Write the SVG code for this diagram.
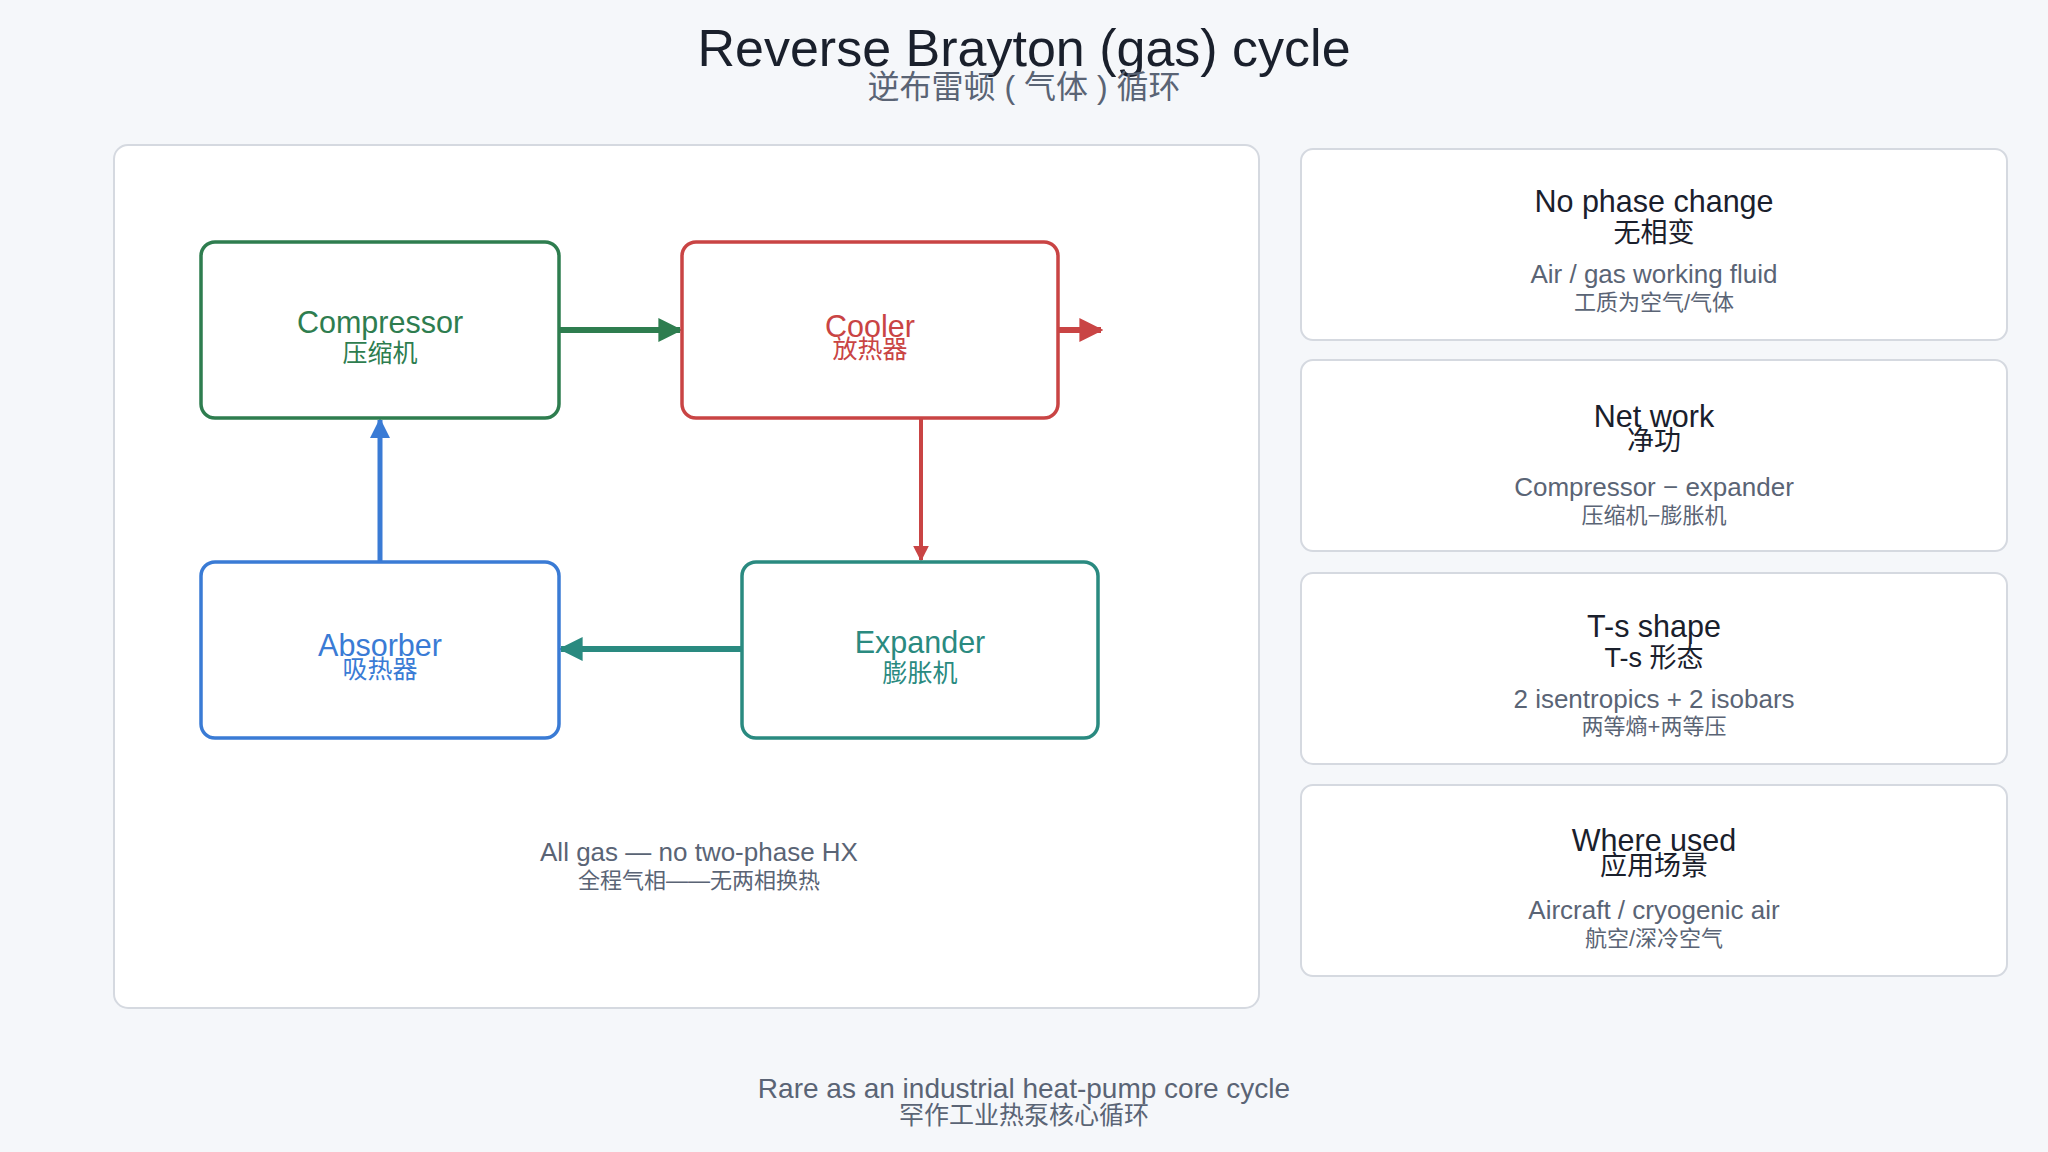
<svg xmlns="http://www.w3.org/2000/svg" width="2048" height="1152" viewBox="0 0 2048 1152">
<defs>
<style>
text{font-family:"Liberation Sans","Noto Sans CJK SC",sans-serif;text-anchor:middle}
.card{fill:#fff;stroke:#d5d9e0;stroke-width:2}
.h{font-size:30.5px;fill:#1a202c}
.hc{font-size:27px;fill:#1a202c}
.s{font-size:26px;fill:#5a6475}
.sc{font-size:22px;fill:#5a6475}
.node{fill:#fff;stroke-width:3.5}
</style>
<marker id="mg" viewBox="0 0 10 10" refX="9" refY="5" markerWidth="4" markerHeight="4" orient="auto"><path d="M0,0L10,5L0,10z" fill="#2e7d4f"/></marker>
<marker id="mr" viewBox="0 0 10 10" refX="9" refY="5" markerWidth="4" markerHeight="4" orient="auto"><path d="M0,0L10,5L0,10z" fill="#c94444"/></marker>
<marker id="mb" viewBox="0 0 10 10" refX="9" refY="5" markerWidth="4" markerHeight="4" orient="auto"><path d="M0,0L10,5L0,10z" fill="#3a7bd5"/></marker>
<marker id="mt" viewBox="0 0 10 10" refX="9" refY="5" markerWidth="4" markerHeight="4" orient="auto"><path d="M0,0L10,5L0,10z" fill="#2a8a80"/></marker>
</defs>
<rect width="2048" height="1152" fill="#f5f7fa"/>
<text x="1024" y="66" font-size="52" fill="#1a202c">Reverse Brayton (gas) cycle</text>
<text x="1024" y="98" font-size="32" fill="#5a6475">逆布雷顿 ( 气体 ) 循环</text>
<rect x="114" y="145" width="1145" height="863" rx="14" class="card"/>
<g id="connectors" fill="none">
<line x1="559" y1="330" x2="680" y2="330" stroke="#2e7d4f" stroke-width="6" marker-end="url(#mg)"/>
<line x1="1058" y1="330" x2="1101" y2="330" stroke="#c94444" stroke-width="6" marker-end="url(#mr)"/>
<line x1="921" y1="418" x2="921" y2="560" stroke="#c94444" stroke-width="4" marker-end="url(#mr)"/>
<line x1="742" y1="649" x2="561" y2="649" stroke="#2a8a80" stroke-width="6" marker-end="url(#mt)"/>
<line x1="380" y1="562" x2="380" y2="420" stroke="#3a7bd5" stroke-width="5" marker-end="url(#mb)"/>
</g>
<g id="compressor"><rect x="201" y="242" width="358" height="176" rx="14" class="node" stroke="#2e7d4f"/>
<text x="380" y="333" font-size="30.5" fill="#2e7d4f">Compressor</text><text x="380" y="362" font-size="25" fill="#2e7d4f">压缩机</text></g>
<g id="cooler"><rect x="682" y="242" width="376" height="176" rx="14" class="node" stroke="#c94444"/>
<text x="870" y="337" font-size="30.5" fill="#c94444">Cooler</text><text x="870" y="358" font-size="25" fill="#c94444">放热器</text></g>
<g id="absorber"><rect x="201" y="562" width="358" height="176" rx="14" class="node" stroke="#3a7bd5"/>
<text x="380" y="656" font-size="30.5" fill="#3a7bd5">Absorber</text><text x="380" y="678" font-size="25" fill="#3a7bd5">吸热器</text></g>
<g id="expander"><rect x="742" y="562" width="356" height="176" rx="14" class="node" stroke="#2a8a80"/>
<text x="920" y="653" font-size="30.5" fill="#2a8a80">Expander</text><text x="920" y="682" font-size="25" fill="#2a8a80">膨胀机</text></g>
<text x="699" y="861" font-size="26" fill="#5a6475">All gas — no two-phase HX</text>
<text x="699" y="888" class="sc">全程气相——无两相换热</text>
<g id="card1"><rect x="1301" y="149" width="706" height="191" rx="12" class="card"/>
<text x="1654" y="212" class="h">No phase change</text><text x="1654" y="242" class="hc">无相变</text>
<text x="1654" y="283" class="s">Air / gas working fluid</text><text x="1654" y="310" class="sc">工质为空气/气体</text></g>
<g id="card2"><rect x="1301" y="360" width="706" height="191" rx="12" class="card"/>
<text x="1654" y="427" class="h">Net work</text><text x="1654" y="450" class="hc">净功</text>
<text x="1654" y="496" class="s">Compressor − expander</text><text x="1654" y="523" class="sc">压缩机−膨胀机</text></g>
<g id="card3"><rect x="1301" y="573" width="706" height="191" rx="12" class="card"/>
<text x="1654" y="637" class="h">T-s shape</text><text x="1654" y="667" class="hc">T-s 形态</text>
<text x="1654" y="708" class="s">2 isentropics + 2 isobars</text><text x="1654" y="734" class="sc">两等熵+两等压</text></g>
<g id="card4"><rect x="1301" y="785" width="706" height="191" rx="12" class="card"/>
<text x="1654" y="851" class="h">Where used</text><text x="1654" y="875" class="hc">应用场景</text>
<text x="1654" y="919" class="s">Aircraft / cryogenic air</text><text x="1654" y="946" class="sc">航空/深冷空气</text></g>
<text x="1024" y="1098" font-size="28" fill="#5a6475">Rare as an industrial heat-pump core cycle</text>
<text x="1024" y="1124" font-size="25" fill="#5a6475">罕作工业热泵核心循环</text>
</svg>
